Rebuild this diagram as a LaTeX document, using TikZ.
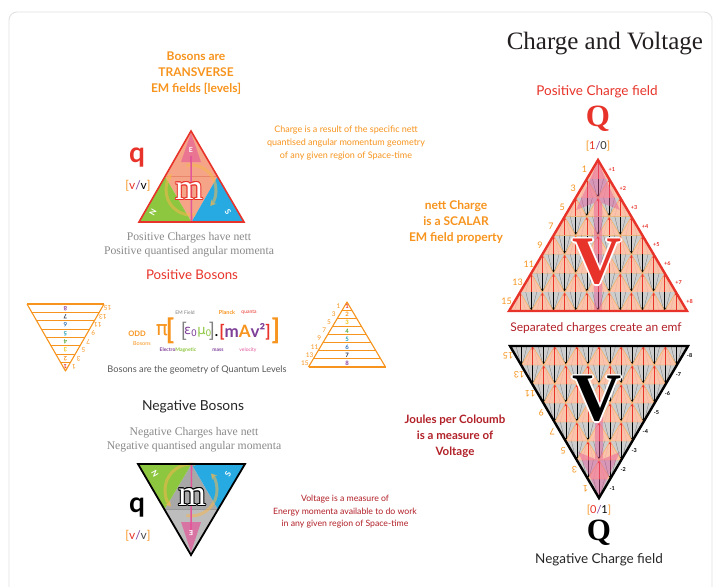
\documentclass[tikz,border=0pt]{standalone}
\usepackage{fontspec}
\setmainfont{Liberation Serif}
\newfontfamily\lato{Lato}
\newfontfamily\dejavu{DejaVu Sans}
\usetikzlibrary{arrows.meta}
\newcommand\fs[2]{\fontsize{#1}{#2}\selectfont}
\definecolor{cTitle}{HTML}{231F20}
\definecolor{cOrange}{HTML}{F7941D}
\definecolor{cRed}{HTML}{E8332A}
\definecolor{cDarkRed}{HTML}{B22028}
\definecolor{cSalmon}{HTML}{F5A487}
\definecolor{cSalmonL}{HTML}{F9C4AA}
\definecolor{cSalmonD}{HTML}{E8866A}
\definecolor{cGreen}{HTML}{8DC63F}
\definecolor{cBlue}{HTML}{27AAE1}
\definecolor{cPink}{HTML}{E4569A}
\definecolor{cGrayT}{HTML}{8A8A8A}
\definecolor{cGrayF}{HTML}{CDCDCD}
\definecolor{cGrayM}{HTML}{A8A8A8}
\definecolor{cGrayL}{HTML}{BDBDBD}
\definecolor{cPurple}{HTML}{7E3F98}
\definecolor{cMag}{HTML}{E0559E}
\definecolor{cCirc}{HTML}{F5B74E}
\definecolor{cCard}{HTML}{E2E2E2}
\definecolor{cN1}{HTML}{E8332A}
\definecolor{cN2}{HTML}{F7941D}
\definecolor{cN3}{HTML}{F2C200}
\definecolor{cN4}{HTML}{5AAA3A}
\definecolor{cN5}{HTML}{1E9BB5}
\definecolor{cN6}{HTML}{2F6DB5}
\definecolor{cN7}{HTML}{1F2A44}
\definecolor{cN8}{HTML}{8A3F98}
% outlined text: name, x,y, font, outline colour, fill colour, text
\newcommand\oltext[6]{%
  \foreach \ddx/\ddy in {1/0,-1/0,0/1,0/-1,0.7/0.7,-0.7/0.7,0.7/-0.7,-0.7/-0.7}{%
    \node[font=#3, text=#4] at ([shift={(\ddx*\olw,\ddy*\olw)}]#2) {#6};}%
  \node[font=#3, text=#5] (#1) at (#2) {#6};}
\begin{document}
\begin{tikzpicture}[x=1pt,y=-1pt,
  every node/.style={inner sep=0pt, outer sep=0pt},
  uparrow/.style={cRed, line width=0.6, -{Stealth[length=3pt,width=2.6pt]}},
  dnarrow/.style={black, line width=0.6, -{Stealth[length=3pt,width=2.6pt]}},
  ladder/.style={cOrange, line width=1.1},
  circarrow/.style={cCirc, line width=3, opacity=0.55, -{Stealth[length=6pt,width=7pt]}},
  orangebold/.style={text=cOrange, font=\lato\bfseries\fs{12}{16}, align=center},
  redbold/.style={text=cDarkRed, font=\lato\bfseries\fs{11.5}{16}, align=center}]
\useasboundingbox (0,0) rectangle (714,586);
\fill[white] (0,0) rectangle (714,586);
\draw[cCard, line width=0.9, rounded corners=8] (9,590) -- (9,12) -- (712,12) -- (712,590);

% title
\node[anchor=base east, font=\fs{25}{30}, text=cTitle] (title) at (703,49) {Charge and Voltage};

% ---------- upper boson triangle ----------
\coordinate (uA) at (191,131); \coordinate (uB) at (139,222); \coordinate (uC) at (244,222);
\coordinate (uL) at (165,176.5); \coordinate (uR) at (217.5,176.5); \coordinate (uM) at (191.5,222);
\fill[cSalmon] (uA) -- (uL) -- (uR) -- cycle;
\fill[cSalmon] (uL) -- (uR) -- (uM) -- cycle;
\fill[cGreen] (uB) -- (uM) -- (uL) -- cycle;
\fill[cBlue] (uC) -- (uM) -- (uR) -- cycle;
\draw[cSalmonD, line width=0.6] (uL) -- (uR);
\draw[circarrow] (191,190) ++(-100:25) arc[start angle=-100, end angle=40, radius=25];
\draw[circarrow] (191,190) ++(80:25) arc[start angle=80, end angle=220, radius=25];
\draw[cPink, line width=1.6] (uM) -- (191,156);
\fill[cPink, opacity=0.6] (191,133) -- (181,162) -- (201,162) -- cycle;
\draw[cRed, line width=1.6, line join=miter] (uA) -- (uB) -- (uC) -- cycle;
\node[text=white, font=\lato\bfseries\fs{7}{7}] (uE) at (191,150) {E};
\node[text=white, font=\lato\bfseries\fs{8}{8}, rotate=60] (uN) at (153,212) {N};
\node[text=white, font=\lato\bfseries\fs{8}{8}, rotate=-60] (uS) at (228,212) {S};
\def\olw{1}
\oltext{um}{189,191}{\fs{36}{36}}{cRed}{white}{m}
\node[text=cRed, font=\lato\bfseries\fs{28}{28}] (q1) at (137,158) {q};
\node[font=\lato\fs{12}{12}] (vv1) at (138,186) {{\color{cOrange}[}{\color{cRed}v}{\color{cPurple}/}{\color{black}v}{\color{cOrange}]}};

\node[orangebold] (bos) at (196,73) {Bosons are\\TRANSVERSE\\EM fields [levels]};
\node[text=cGrayT, font=\fs{11.7}{14}, align=center] (pc) at (189,245) {Positive Charges have nett\\Positive quantised angular momenta};
\node[text=cRed, font=\lato\fs{13.3}{13.3}] (pb) at (192,275) {Positive Bosons};

% ---------- left inverted ladder ----------
\draw[ladder, line join=round] (27,304) -- (65.5,371) -- (104,304);
\foreach \i in {0,...,7}{
  \pgfmathsetmacro\yy{304+\i*8.375}
  \pgfmathsetmacro\hw{38.5*(371-\yy)/67}
  \draw[ladder] (65.5-\hw,\yy) -- (65.5+\hw,\yy);
  \pgfmathsetmacro\ym{304+(\i+0.5)*8.375}
  \pgfmathsetmacro\hm{38.5*(371-\ym)/67}
  \pgfmathtruncatemacro\nn{8-\i}
  \pgfmathtruncatemacro\lab{15-2*\i}
  \node[rotate=180, text=cN\nn, font=\lato\bfseries\fs{6}{6}] at (65.5,\ym) {\nn};
  \node[rotate=180, text=cOrange, font=\lato\fs{6.5}{6.5}] at (65.5+\hm+6,\ym) {\lab};
}
% ---------- right ladder ----------
\draw[ladder, line join=round] (308.5,367) -- (347,302) -- (385.5,367);
\foreach \i in {1,...,8}{
  \pgfmathsetmacro\yy{302+\i*8.125}
  \pgfmathsetmacro\hw{38.5*(\yy-302)/65}
  \draw[ladder] (347-\hw,\yy) -- (347+\hw,\yy);
  \pgfmathsetmacro\ym{302+(\i-0.5)*8.125}
  \pgfmathsetmacro\hm{38.5*(\ym-302)/65}
  \pgfmathtruncatemacro\lab{2*\i-1}
  \node[text=cN\i, font=\lato\bfseries\fs{6}{6}] at (347,\ym+0.5) {\i};
  \node[text=cOrange, font=\lato\fs{6.5}{6.5}] at (347-\hm-6,\ym) {\lab};
}

% ---------- formula ----------
\node[text=cOrange, font=\lato\bfseries\fs{7.5}{7.5}] (odd) at (137,334) {ODD};
\node[text=cOrange, font=\lato\fs{5.5}{5.5}] (bosl) at (142,344) {Bosons};
\node[text=cOrange, font=\dejavu\fs{20}{20}] (pi) at (162,330) {π};
\node[text=cOrange, font=\lato\bfseries\fs{28}{28}] (ob1) at (170,331) {[};
\node[text=gray, font=\lato\fs{20}{20}] (gb1) at (184,331) {[};
\node[font=\dejavu\fs{13}{13}] (em) at (198,332) {{\color{cPurple}ε\textsubscript{0}}{\color{cGreen}μ\textsubscript{0}}};
\node[text=gray, font=\lato\fs{20}{20}] (gb2) at (212,331) {]};
\node[font=\lato\bfseries\fs{14}{14}] (dot) at (216.5,336) {.};
\node[font=\lato\bfseries\fs{17}{17}] (mav) at (245,332) {{\color{cRed}[}{\color{cPurple}m}{\color{cOrange}A}{\color{cPurple}v²}{\color{cRed}]}};
\node[text=cOrange, font=\lato\bfseries\fs{28}{28}] (ob2) at (276,331) {]};
\node[text=gray, font=\lato\fs{5}{5}] (emf) at (185,313) {EM Field};
\node[text=cOrange, font=\lato\bfseries\fs{5.5}{5.5}] (planck) at (227,312) {Planck};
\node[text=cRed, font=\lato\fs{5}{5}] (quanta) at (249,312) {quanta};
\node[font=\lato\bfseries\fs{5}{5}] (elm) at (178,350) {{\color{cPurple}Electro}{\color{cGreen}Magnetic}};
\node[text=cPurple, font=\lato\bfseries\fs{5}{5}] (mass) at (218,350) {mass};
\node[text=cMag, font=\lato\fs{5}{5}] (vel) at (248,350) {velocity};
\node[text=black!65, font=\lato\fs{9.2}{9.2}] (geo) at (197,370) {Bosons are the geometry of Quantum Levels};

% ---------- lower boson triangle ----------
\node[text=black!85, font=\lato\fs{13.8}{13.8}] (nb) at (193,407) {Negative Bosons};
\node[text=cGrayT, font=\fs{11.7}{14}, align=center] (nc) at (194,440) {Negative Charges have nett\\Negative quantised angular momenta};
\coordinate (lA) at (191,555); \coordinate (lB) at (138,464); \coordinate (lC) at (245,464);
\coordinate (lL) at (164.5,509.5); \coordinate (lR) at (218,509.5); \coordinate (lM) at (191.5,464);
\fill[cGrayM] (lM) -- (lL) -- (lR) -- cycle;
\fill[cGrayL] (lL) -- (lR) -- (lA) -- cycle;
\fill[cGreen] (lB) -- (lM) -- (lL) -- cycle;
\fill[cBlue] (lC) -- (lM) -- (lR) -- cycle;
\draw[black!40, line width=0.6] (lL) -- (lR);
\draw[circarrow] (191,490) ++(100:26) arc[start angle=100, end angle=-40, radius=26];
\draw[circarrow] (191,490) ++(-80:26) arc[start angle=-80, end angle=-220, radius=26];
\draw[cPink, line width=1.6] (lM) -- (191,530);
\fill[cPink, opacity=0.7] (191,552) -- (181,522) -- (201,522) -- cycle;
\draw[black, line width=1.8, line join=miter] (lA) -- (lB) -- (lC) -- cycle;
\node[text=white, font=\lato\bfseries\fs{7}{7}, rotate=180] (lE) at (191,533) {E};
\node[text=white, font=\lato\bfseries\fs{8}{8}, rotate=-60] (lN) at (155,474) {N};
\node[text=white, font=\lato\bfseries\fs{8}{8}, rotate=60] (lS) at (228,474) {S};
\def\olw{1}
\oltext{lm}{192,497}{\fs{36}{36}}{black}{white}{m}
\node[text=black, font=\lato\bfseries\fs{28}{28}] (q2) at (137,508) {q};
\node[font=\lato\fs{12}{12}] (vv2) at (138,536) {{\color{cOrange}[}{\color{cRed}v}{\color{cPurple}/}{\color{black!70}v}{\color{cOrange}]}};

% ---------- middle texts ----------
\node[text=cOrange, font=\lato\fs{9}{13}, align=center] (cres) at (346,143) {Charge is a result of the specific nett\\quantised angular momentum geometry\\of any given region of Space-time};
\node[orangebold] (scal) at (456,222) {nett Charge\\is a SCALAR\\EM field property};
\node[redbold] (joul) at (455,436) {Joules per Coloumb\\is a measure of\\Voltage};
\node[text=cDarkRed, font=\lato\fs{8.7}{12.5}, align=center] (volt) at (345,512) {Voltage is a measure of\\Energy momenta available to do work\\in any given region of Space-time};

% ---------- upper right charge triangle ----------
\node[text=cRed, font=\lato\fs{13.5}{13.5}] (pcf) at (597,92) {Positive Charge field};
\node[text=cRed, font=\bfseries\fs{31}{31}] (Q1) at (598,119) {Q};
\node[font=\lato\fs{11}{11}] (io1) at (598,146) {{\color{cOrange}[}{\color{cRed}1}{\color{cPurple}/}{\color{black!80}0}{\color{cOrange}]}};
\fill[cSalmonL] (598,160) -- (509,311) -- (687,311) -- cycle;
\foreach \r in {1,...,8}{
  \pgfmathsetmacro\yt{160+(\r-1)*18.875}
  \pgfmathsetmacro\yb{160+\r*18.875}
  \pgfmathsetmacro\ymid{160+(\r-0.5)*18.875}
  \ifnum\r>1
  \foreach \j in {2,...,\r}{
    \pgfmathsetmacro\xd{598+(2*\j-\r-2)*11.125}
    \fill[cGrayF] (\xd-11.125,\yt) -- (\xd+11.125,\yt) -- (\xd,\yb) -- cycle;
    \draw[black!55, line width=0.3] (\xd-5.5,\yt) -- (\xd-1,\yb-1) (\xd+5.5,\yt) -- (\xd+1,\yb-1);
    \draw[dnarrow] (\xd,\yt) -- (\xd,\yb-0.5);
  }
  \fi
  \foreach \j in {1,...,\r}{
    \pgfmathsetmacro\xa{598+(2*\j-\r-1)*11.125}
    \draw[cOrange!75, line width=0.45] (\xa-11.125,\yb) -- (\xa,\yt) -- (\xa+11.125,\yb);
    \draw[cRed!45, line width=0.3] (\xa-5.5,\yb) -- (\xa-1,\yt+1) (\xa+5.5,\yb) -- (\xa+1,\yt+1);
    \draw[uparrow] (\xa,\yb) -- (\xa,\yt+0.5);
  }
  \draw[cOrange!75, line width=0.45] (598-\r*11.125,\yb) -- (598+\r*11.125,\yb);
  \pgfmathtruncatemacro\lab{2*\r-1}
  \node[text=cOrange, font=\lato\fs{9}{9}] at (598-\r*11.125+5.56-8,\ymid) {\lab};
  \node[anchor=west, text=cRed, font=\lato\bfseries\fs{5.5}{5.5}] at (598+\r*11.125-5.56+5,\ymid) {+\r};
}
\fill[cPink, opacity=0.45] (598,162) -- (620,210) -- (602,203) -- (602,311) -- (594,311) -- (594,203) -- (576,210) -- cycle;
\def\olw{1.6}
\oltext{V1}{597,262}{\bfseries\fs{68}{68}}{white}{cRed}{V}
\draw[cRed, line width=2.4, line join=miter] (598,160) -- (509,311) -- (687,311) -- cycle;
\node[text=cDarkRed, font=\lato\fs{12}{12}] (sep) at (596,328) {Separated charges create an emf};

% ---------- lower right charge triangle ----------
\fill[cGrayF] (599,498) -- (510,346) -- (688,346) -- cycle;
\foreach \k in {1,...,8}{
  \pgfmathsetmacro\yb{498-(\k-1)*19}
  \pgfmathsetmacro\yt{498-\k*19}
  \pgfmathsetmacro\ymid{498-(\k-0.5)*19}
  \foreach \j in {1,...,\k}{
    \pgfmathsetmacro\xd{599+(2*\j-\k-1)*11.0625}
    \draw[black!55, line width=0.3] (\xd-5.5,\yt) -- (\xd-1,\yb-1) (\xd+5.5,\yt) -- (\xd+1,\yb-1);
    \draw[dnarrow] (\xd,\yt) -- (\xd,\yb-0.5);
  }
  \ifnum\k>1
  \foreach \j in {2,...,\k}{
    \pgfmathsetmacro\xa{599+(2*\j-\k-2)*11.0625}
    \filldraw[fill=cSalmonL, draw=cOrange!75, line width=0.45] (\xa,\yt) -- (\xa-11.0625,\yb) -- (\xa+11.0625,\yb) -- cycle;
    \draw[cRed!45, line width=0.3] (\xa-5.5,\yb) -- (\xa-1,\yt+1) (\xa+5.5,\yb) -- (\xa+1,\yt+1);
    \draw[uparrow] (\xa,\yb) -- (\xa,\yt+0.5);
  }
  \fi
  \pgfmathtruncatemacro\lab{2*\k-1}
  \node[rotate=180, text=cOrange, font=\lato\fs{9}{9}] at (599-\k*11.0625+5.53-8,\ymid) {\lab};
  \node[anchor=west, text=black, font=\lato\bfseries\fs{5.5}{5.5}] at (599+\k*11.0625-5.53+5,\ymid) {-\k};
}
\fill[cPink, opacity=0.45] (599,496) -- (620,452) -- (603,459) -- (603,400) -- (595,400) -- (595,459) -- (578,452) -- cycle;
\def\olw{1.6}
\oltext{V2}{597,399}{\bfseries\fs{68}{68}}{white}{black}{V}
\draw[black, line width=2.4, line join=miter] (599,498) -- (510,346) -- (688,346) -- cycle;
\node[font=\lato\fs{11}{11}] (io2) at (599,510) {{\color{cOrange}[}{\color{cRed}0}{\color{cPurple}/}{\color{black}1}{\color{cOrange}]}};
\node[text=black, font=\bfseries\fs{31}{31}] (Q2) at (599,533) {Q};
\node[text=black!85, font=\lato\fs{13.5}{13.5}] (ncf) at (599,560) {Negative Charge field};
\end{tikzpicture}
\end{document}
